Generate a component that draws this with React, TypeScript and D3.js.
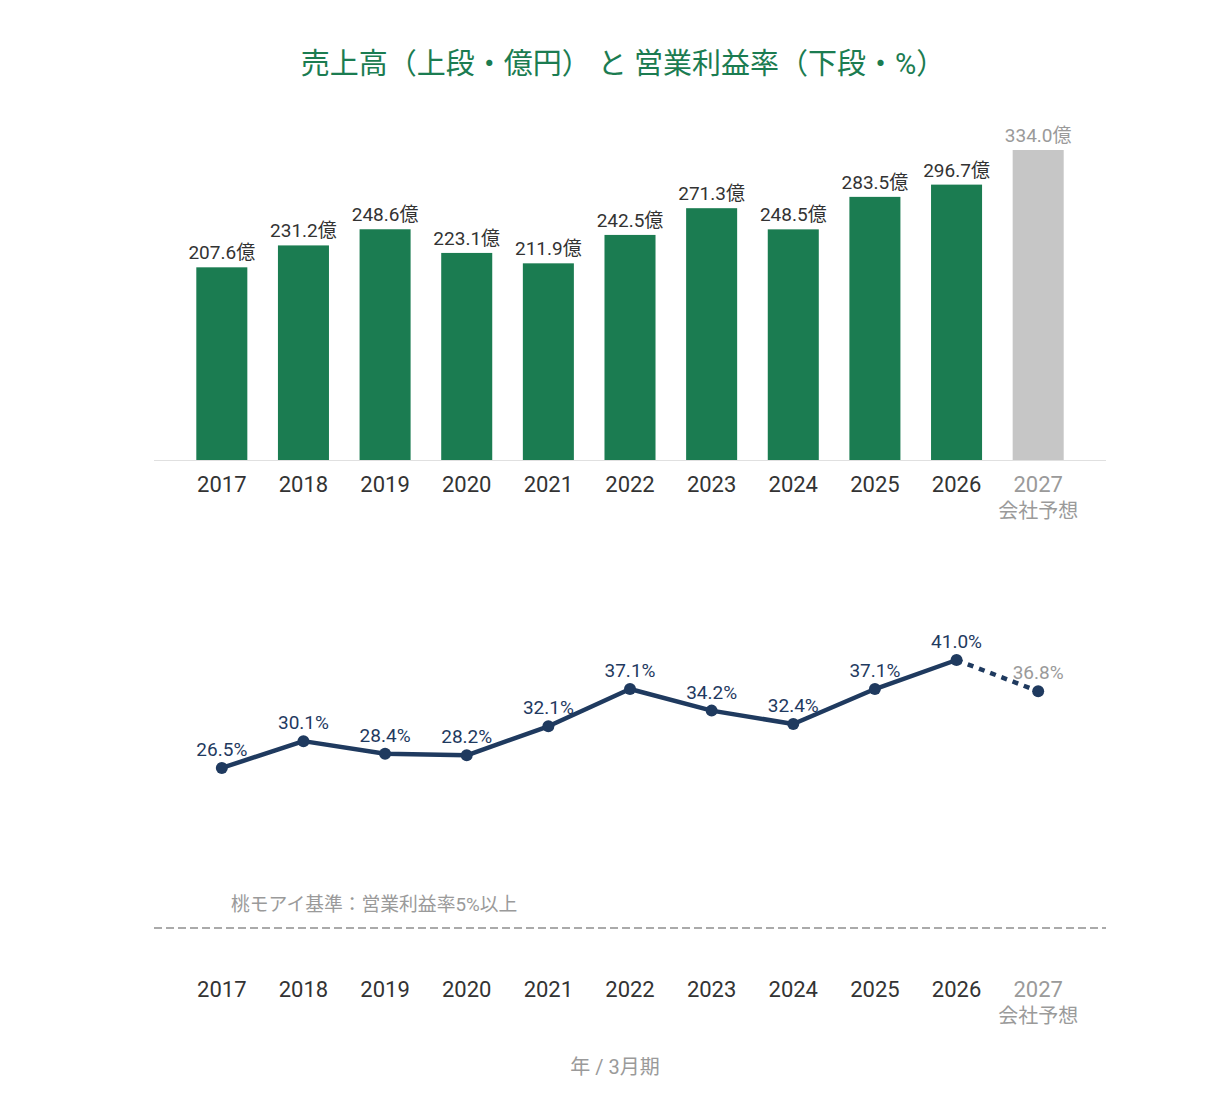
import React from "react";
import * as d3 from "d3";

// fiscal years (March year-end); last one is the company forecast
const years = ["2017", "2018", "2019", "2020", "2021", "2022", "2023", "2024", "2025", "2026", "2027"];
const sales = [207.6, 231.2, 248.6, 223.1, 211.9, 242.5, 271.3, 248.5, 283.5, 296.7, 334.0];
const margins = [26.5, 30.1, 28.4, 28.2, 32.1, 37.1, 34.2, 32.4, 37.1, 41.0, 36.8];
const forecastIndex = 10;
const forecastLabel = "会社予想";
const thresholdValue = 5;
const thresholdLabel = "桃モアイ基準：営業利益率5%以上";

const W = 1230;
const H = 1110;
const FONT = "Roboto, 'Noto Sans CJK JP', sans-serif";
const GREEN = "#1b7c51";
const NAVY = "#1f3a5f";
const GRAY_BAR = "#c6c6c6";
const GRAY_TEXT = "#9a9a9a";
const DARK = "#333333";

export default function App() {
  const x = d3.scaleBand<string>()
    .domain(years)
    .range([181, 1079])
    .paddingInner(0.375)
    .paddingOuter(0.1875);

  const ySales = d3.scaleLinear().domain([0, 334]).range([460, 150]);
  const yMargin = d3.scaleLinear().domain([thresholdValue, 41]).range([928, 660]);

  const cx = (y: string) => (x(y) ?? 0) + x.bandwidth() / 2;

  const pts = margins.map((m, i) => [cx(years[i]), yMargin(m)] as [number, number]);
  const line = d3.line();
  const solidPath = line(pts.slice(0, forecastIndex)) ?? "";
  const dashPath = line(pts.slice(forecastIndex - 1)) ?? "";

  const yearAxis = (top: number) => (
    <g>
      {years.map((y, i) => (
        <g key={y}>
          <text x={cx(y)} y={top} textAnchor="middle" fontSize={22}
            fill={i === forecastIndex ? GRAY_TEXT : DARK}>{y}</text>
          {i === forecastIndex && (
            <text x={cx(y)} y={top + 26} textAnchor="middle" fontSize={20} fill={GRAY_TEXT}>
              {forecastLabel}
            </text>
          )}
        </g>
      ))}
    </g>
  );

  return (
    <svg width={W} height={H} style={{ position: "absolute", left: 0, top: 0, background: "#fff" }}
      fontFamily={FONT}>
      <text x={623} y={74} textAnchor="middle" fontSize={29} fill={GREEN}>
        売上高（上段・億円） と 営業利益率（下段・%）
      </text>

      {/* sales bars */}
      <line x1={154} x2={1106} y1={460.5} y2={460.5} stroke="#e0e0e0" strokeWidth={1} />
      {sales.map((v, i) => (
        <g key={years[i]}>
          <rect x={x(years[i])} y={ySales(v)} width={x.bandwidth()} height={ySales(0) - ySales(v)}
            fill={i === forecastIndex ? GRAY_BAR : GREEN} />
          <text x={cx(years[i])} y={ySales(v) - 8} textAnchor="middle" fontSize={19}
            fill={i === forecastIndex ? GRAY_TEXT : DARK}>{v.toFixed(1)}億</text>
        </g>
      ))}
      {yearAxis(492)}

      {/* operating margin line */}
      <path d={solidPath} fill="none" stroke={NAVY} strokeWidth={4.5} strokeLinejoin="round" />
      <path d={dashPath} fill="none" stroke={NAVY} strokeWidth={4.5} strokeDasharray="6,6" />
      {margins.map((m, i) => (
        <g key={years[i]}>
          <circle cx={pts[i][0]} cy={pts[i][1]} r={6} fill={NAVY} />
          <text x={pts[i][0]} y={pts[i][1] - 12} textAnchor="middle" fontSize={19}
            fill={i === forecastIndex ? GRAY_TEXT : NAVY}>{m.toFixed(1)}%</text>
        </g>
      ))}

      <text x={231} y={911} fontSize={18.8} fill={GRAY_TEXT}>{thresholdLabel}</text>
      <line x1={154} x2={1106} y1={yMargin(thresholdValue)} y2={yMargin(thresholdValue)}
        stroke="#aaaaaa" strokeWidth={2} strokeDasharray="8,4" />
      {yearAxis(997)}

      <text x={615} y={1074} textAnchor="middle" fontSize={20} fill={GRAY_TEXT}>年 / 3月期</text>
    </svg>
  );
}
